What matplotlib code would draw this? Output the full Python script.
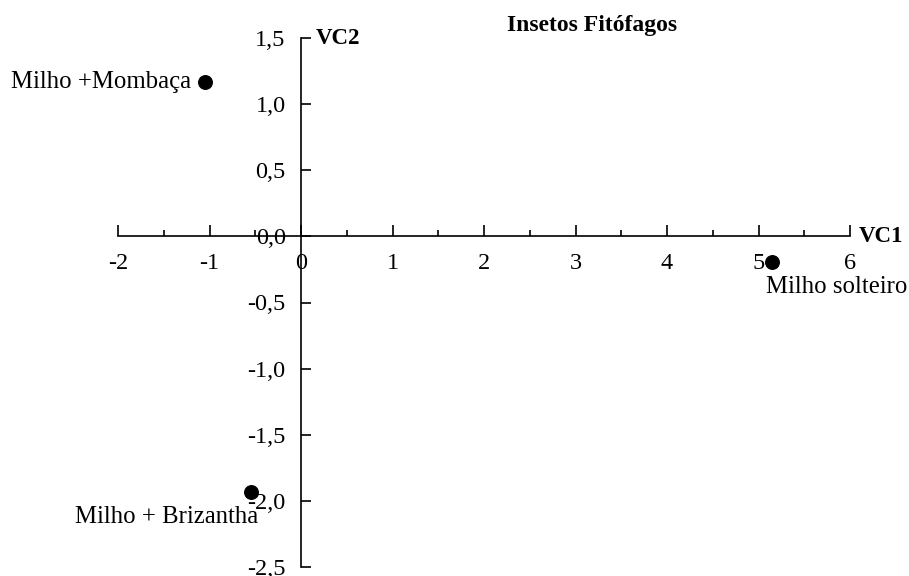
import matplotlib.pyplot as plt
from matplotlib.ticker import MultipleLocator, FuncFormatter

# Scores on the two canonical variables
treatments = ["Milho +Mombaça", "Milho solteiro", "Milho + Brizantha"]
vc1 = [-1.05, 5.15, -0.55]
vc2 = [1.17, -0.19, -1.93]

x_ticks = [-2, -1, 0, 1, 2, 3, 4, 5, 6]
y_ticks = [-2.5, -2.0, -1.5, -1.0, -0.5, 0.0, 0.5, 1.0, 1.5]

plt.rcParams["font.family"] = ["Liberation Serif", "DejaVu Serif"]

fig = plt.figure(figsize=(9.09, 5.76), dpi=100)
ax = fig.add_axes([118 / 909, 1 - 567 / 576, 732 / 909, 529 / 576])

ax.scatter(vc1, vc2, s=95, color="black", zorder=3, clip_on=False)

ax.set_xlim(-2, 6)
ax.set_ylim(-2.5, 1.5)

ax.spines["left"].set_position(("data", 0))
ax.spines["bottom"].set_position(("data", 0))
ax.spines["right"].set_visible(False)
ax.spines["top"].set_visible(False)
for s in ("left", "bottom"):
    ax.spines[s].set_linewidth(1.2)

ax.set_xticks(x_ticks)
ax.xaxis.set_minor_locator(MultipleLocator(0.5))
ax.set_yticks(y_ticks)
ax.yaxis.set_major_formatter(FuncFormatter(lambda v, p: f"{v:.1f}".replace(".", ",")))
ax.xaxis.set_major_formatter(FuncFormatter(lambda v, p: f"{v:.0f}"))

ax.tick_params(axis="x", which="major", direction="in", length=8, width=1.2,
               labelsize=17.5, pad=12)
ax.tick_params(axis="x", which="minor", direction="in", length=4, width=1.2)
ax.tick_params(axis="y", which="major", direction="in", length=7, width=1.2,
               labelsize=17.5, pad=11)

# point labels
ax.text(-1.2, 1.17, treatments[0], fontsize=17.8, ha="right", va="center")
ax.text(5.08, -0.38, treatments[1], fontsize=17.8, ha="left", va="center")
ax.text(-0.47, -2.12, treatments[2], fontsize=17.8, ha="right", va="center")

# axis names
ax.text(0.16, 1.5, "VC2", fontsize=16.5, fontweight="bold", ha="left", va="center")
ax.text(6.1, 0.0, "VC1", fontsize=16.5, fontweight="bold", ha="left", va="center")

fig.text(592 / 909, 1 - 26 / 576, "Insetos Fitófagos", fontsize=17,
         fontweight="bold", ha="center", va="center")

fig.savefig("out.png", dpi=100)
